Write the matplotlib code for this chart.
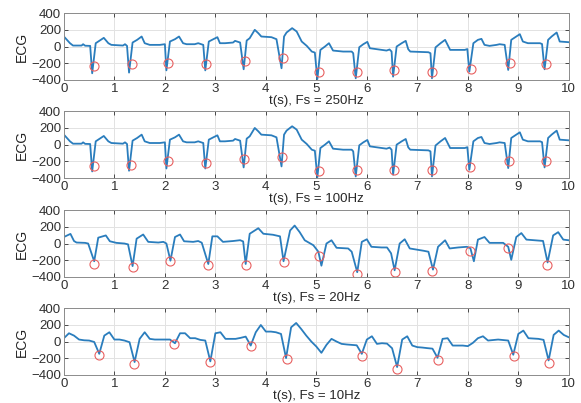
import matplotlib
matplotlib.use('Agg')
import matplotlib.pyplot as plt

plt.rcParams['font.family'] = ['Liberation Sans', 'DejaVu Sans']

# waypoints of the ECG trace (same recording for 250 Hz and 100 Hz)
t_hi = [0.00, 0.12, 0.18, 0.35, 0.38, 0.42, 0.52, 0.56, 0.63, 0.71, 0.79, 0.88,
        0.94, 1.17, 1.21, 1.25, 1.29, 1.36, 1.45, 1.54, 1.60, 1.70, 1.90, 2.00,
        2.03, 2.10, 2.20, 2.28, 2.36, 2.43, 2.59, 2.66, 2.76, 2.80, 2.87, 2.96,
        3.04, 3.09, 3.19, 3.35, 3.39, 3.49, 3.56, 3.62, 3.68, 3.78, 3.85, 3.91,
        4.11, 4.21, 4.31, 4.36, 4.41, 4.52, 4.61, 4.71, 4.81, 4.91, 4.97, 5.02,
        5.08, 5.17, 5.25, 5.33, 5.53, 5.70, 5.73, 5.78, 5.85, 5.93, 6.01, 6.06,
        6.39, 6.45, 6.49, 6.52, 6.59, 6.69, 6.77, 6.82, 6.86, 7.22, 7.26, 7.29,
        7.36, 7.46, 7.55, 7.65, 7.94, 7.99, 8.03, 8.11, 8.20, 8.27, 8.33, 8.43,
        8.57, 8.63, 8.73, 8.80, 8.86, 8.96, 9.03, 9.09, 9.19, 9.43, 9.47, 9.52,
        9.59, 9.66, 9.76, 9.82, 10.00]
ecg_hi = [120, 40, 12, 12, 28, 10, 8, -320, 40, 72, 104, 40,
          20, 12, 28, 8, -312, 48, 80, 120, 40, 20, 20, 28,
          -285, 60, 88, 120, 40, 28, 28, 40, 20, -285, 60, 88,
          112, 40, 40, 48, 68, 48, -272, 72, 100, 200, 160, 120,
          112, 88, -260, 120, 168, 220, 180, 60, 8, -60, -72, -390,
          -40, 0, 40, -48, -60, -60, -80, -380, -8, 28, 56, -20,
          -48, -35, -60, -360, 0, 40, 68, -32, -60, -68, -80, -380,
          -10, 40, 80, -40, -40, -30, -300, 40, 80, 92, 20, 8,
          20, 28, 20, -280, 80, 120, 148, 60, 40, 40, 30, -272,
          80, 120, 168, 60, 52]

pk_t_250 = [0.59, 1.34, 2.07, 2.81, 3.58, 4.33, 5.05, 5.80, 6.53, 7.29, 8.06, 8.83, 9.55]
pk_v_250 = [-232, -208, -200, -212, -169, -140, -300, -300, -280, -307, -271, -200, -208]

pk_t_100 = [0.59, 1.33, 2.07, 2.81, 3.57, 4.32, 5.05, 5.80, 6.54, 7.29, 8.05, 8.81, 9.55]
pk_v_100 = [-250, -240, -200, -220, -170, -150, -310, -300, -300, -300, -270, -200, -200]

t_20 = [0.00, 0.09, 0.13, 0.20, 0.25, 0.42, 0.48, 0.60, 0.68, 0.83, 0.91, 1.04,
        1.20, 1.27, 1.36, 1.44, 1.57, 1.67, 1.87, 1.97, 2.03, 2.11, 2.20, 2.30,
        2.38, 2.56, 2.66, 2.73, 2.86, 2.94, 3.04, 3.15, 3.35, 3.49, 3.55, 3.60,
        3.68, 3.85, 3.95, 4.14, 4.28, 4.35, 4.48, 4.57, 4.67, 4.77, 4.94, 5.04,
        5.10, 5.20, 5.30, 5.40, 5.63, 5.70, 5.81, 5.90, 6.00, 6.09, 6.29, 6.40,
        6.48, 6.55, 6.65, 6.75, 6.85, 7.12, 7.22, 7.31, 7.41, 7.55, 7.64, 7.81,
        7.98, 8.05, 8.12, 8.20, 8.33, 8.43, 8.70, 8.80, 8.86, 8.96, 9.06, 9.16,
        9.49, 9.58, 9.69, 9.79, 9.89, 10.00]
ecg_20 = [78, 104, 115, 30, 12, 8, 0, -212, 70, 97, 27, 8,
          0, -10, -270, 58, 108, 20, 12, 20, 0, -205, 78, 108,
          27, 20, 30, 10, -245, 86, 86, 20, 30, 40, 25, -245,
          117, 183, 117, 105, 86, -212, 156, 215, 136, 39, -20, -98,
          -265, 0, 39, -51, -59, -98, -343, 20, 51, -39, -47, -47,
          -117, -320, 0, 51, -59, -86, -98, -312, -39, 39, -59, -47,
          -39, -55, -212, 47, 78, 8, 8, -39, -195, 78, 125, 47,
          31, -226, 97, 136, 47, 39]

pk_t_20 = [0.60, 1.36, 2.11, 2.86, 3.60, 4.36, 5.05, 5.81, 6.55, 7.30, 8.05, 8.80, 9.56]
pk_v_20 = [-245, -285, -205, -253, -253, -222, -148, -362, -343, -331, -90, -51, -261]

t_10 = [0.0, 0.1, 0.2, 0.3, 0.4, 0.5, 0.6, 0.7, 0.8, 0.9, 1.0, 1.1,
        1.2, 1.3, 1.4, 1.5, 1.6, 1.7, 1.8, 1.9, 2.0, 2.1, 2.2, 2.3,
        2.4, 2.5, 2.6, 2.7, 2.8, 2.9, 3.0, 3.1, 3.2, 3.3, 3.4, 3.5,
        3.6, 3.7, 3.8, 3.9, 4.0, 4.1, 4.2, 4.3, 4.4, 4.5, 4.6, 4.7,
        4.8, 4.9, 5.0, 5.1, 5.2, 5.3, 5.4, 5.5, 5.6, 5.7, 5.8, 5.9,
        6.0, 6.1, 6.2, 6.3, 6.4, 6.5, 6.6, 6.7, 6.8, 6.9, 7.0, 7.1,
        7.2, 7.3, 7.4, 7.5, 7.6, 7.7, 7.8, 7.9, 8.0, 8.1, 8.2, 8.3,
        8.4, 8.5, 8.6, 8.7, 8.8, 8.9, 9.0, 9.1, 9.2, 9.3, 9.4, 9.5,
        9.6, 9.7, 9.8, 9.9, 10.0]
ecg_10 = [40, 99, 71, 24, 15, 12, -5, -147, 71, 111, 24, 24,
          12, -8, -245, 32, 111, 32, 24, 24, 24, 24, -20, 99,
          99, 40, 40, 20, 12, -237, 99, 111, 32, 32, 32, 44,
          59, -48, 111, 198, 119, 119, 111, 91, -198, 170, 222, 150,
          71, 0, -60, -135, -40, 32, 0, -28, -35, -40, -45, -147,
          24, 63, -28, -20, -25, -80, -305, 24, 63, -48, -67, -72,
          -79, -85, -194, 32, 40, -48, -48, -48, -55, -16, 40, 63,
          12, 18, 24, 18, 12, -158, 91, 131, 40, 36, 32, 20,
          -226, 79, 131, 79, 51]

pk_t_10 = [0.70, 1.39, 2.18, 2.89, 3.70, 4.41, 5.91, 6.60, 7.40, 8.91, 9.61]
pk_v_10 = [-166, -265, -28, -245, -59, -210, -174, -333, -218, -174, -253]

labels = ['t(s), Fs = 250Hz', 't(s), Fs = 100Hz', 't(s), Fs = 20Hz', 't(s), Fs = 10Hz']
panels = [(t_hi, ecg_hi, pk_t_250, pk_v_250),
          (t_hi, ecg_hi, pk_t_100, pk_v_100),
          (t_20, ecg_20, pk_t_20, pk_v_20),
          (t_10, ecg_10, pk_t_10, pk_v_10)]

fig = plt.figure(figsize=(5.81, 4.03), dpi=100)
bottoms = [0.8015, 0.558, 0.3127, 0.0695]
line_col = '#2a7dbd'
for i, (t, y, pt, pv) in enumerate(panels):
    ax = fig.add_axes([0.110, bottoms[i], 0.869, 0.166])
    ax.plot(t, y, color=line_col, lw=1.3)
    ax.plot(pt, pv, 'o', mfc='none', mec='#e86060', ms=6.5, mew=0.8)
    ax.set_xlim(0, 10)
    ax.set_ylim(-400, 400)
    ax.set_xticks(range(0, 11))
    ax.set_yticks([-400, -200, 0, 200, 400])
    ax.grid(True, color='#e2e2e2', lw=0.7)
    ax.tick_params(direction='in', top=True, right=True, labelsize=9.5,
                   colors='#303030', length=3, width=0.6, pad=2)
    for s in ax.spines.values():
        s.set_color('#8c8c8c')
        s.set_linewidth(0.7)
    ax.set_ylabel('ECG', fontsize=10, color='#262626', labelpad=2)
    ax.set_xlabel(labels[i], fontsize=9.5, color='#262626', labelpad=0)

fig.savefig('out.png', dpi=100)
